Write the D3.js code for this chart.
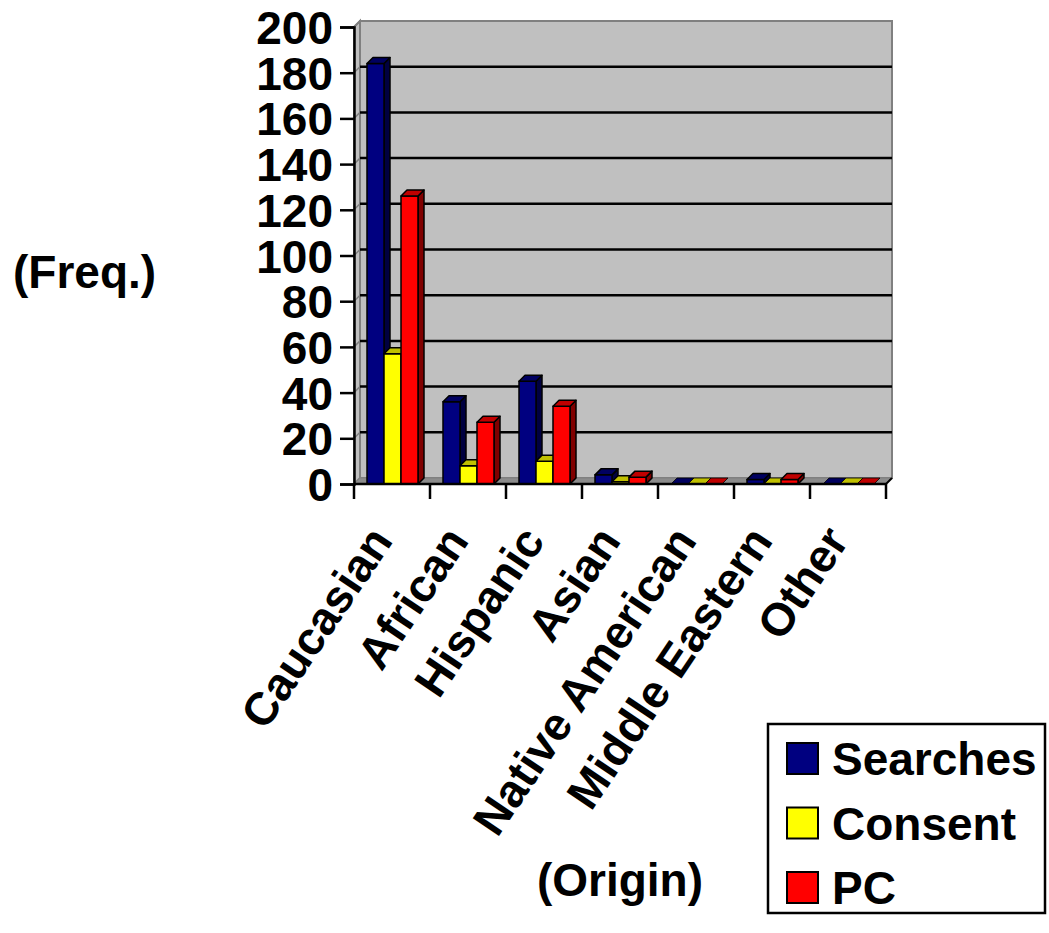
<!DOCTYPE html>
<html>
<head>
<meta charset="utf-8">
<script src="https://cdn.jsdelivr.net/npm/d3@7"></script>
<style>
  body { margin: 0; background: #fff; }
  text { font-family: "Liberation Sans", Arial, sans-serif; font-weight: bold; fill: #000; }
</style>
</head>
<body>
<div id="chart"></div>
<script>
const categories = ["Caucasian", "African", "Hispanic", "Asian", "Native American", "Middle Eastern", "Other"];
const seriesNames = ["Searches", "Consent", "PC"];
const searches = [184, 36, 45, 4, 0, 2, 0];
const consent = [57, 8, 10, 1, 0, 0, 0];
const pc = [126, 27, 34, 3, 0, 2, 0];
const yTicks = [0, 20, 40, 60, 80, 100, 120, 140, 160, 180, 200];

const seriesValues = [searches, consent, pc];
// front, top, side colours
const faces = [
  ["#000080", "#000060", "#000040"],
  ["#ffff00", "#c0c000", "#808000"],
  ["#ff0000", "#c00000", "#800000"]
];

const W = 1049, H = 933;
const depth = 6;

const svg = d3.select("#chart").append("svg")
  .attr("width", W).attr("height", H);

const x = d3.scaleBand().domain(categories).range([354, 886]);
const xs = d3.scaleBand().domain(seriesNames).range([13, 64]);
const y = d3.scaleLinear().domain([0, 200]).range([484, 27]);

const x0 = x.range()[0], x1 = x.range()[1];
const yTop = y(200), yBot = y(0);

// walls
svg.append("polygon")
  .attr("points", [[x0, yTop], [x0 + depth, yTop - depth], [x0 + depth, yBot - depth], [x0, yBot]].join(" "))
  .attr("fill", "#c0c0c0").attr("stroke", "#808080").attr("stroke-width", 2);
svg.append("rect")
  .attr("x", x0 + depth).attr("y", yTop - depth)
  .attr("width", x1 - x0).attr("height", yBot - yTop)
  .attr("fill", "#c0c0c0").attr("stroke", "#808080").attr("stroke-width", 2);
svg.append("polygon")
  .attr("points", [[x0, yBot], [x0 + depth, yBot - depth], [x1 + depth, yBot - depth], [x1, yBot]].join(" "))
  .attr("fill", "#8c8c8c").attr("stroke", "#808080").attr("stroke-width", 1);

// gridlines
const grid = svg.append("g");
yTicks.filter(v => v > 0).forEach(v => {
  grid.append("line")
    .attr("x1", x0).attr("y1", y(v)).attr("x2", x0 + depth).attr("y2", y(v) - depth)
    .attr("stroke", "#808080").attr("stroke-width", 1.5);
  grid.append("line")
    .attr("x1", x0 + depth).attr("y1", y(v) - depth).attr("x2", x1 + depth).attr("y2", y(v) - depth)
    .attr("stroke", "#000").attr("stroke-width", v === 200 ? 0 : 2.5);
});

// bars
const bars = svg.append("g");
categories.forEach((c, i) => {
  seriesNames.forEach((s, j) => {
    const v = seriesValues[j][i];
    const bx = x(c) + xs(s), bw = xs.bandwidth();
    const by = y(v);
    const g = bars.append("g").attr("stroke", "#000").attr("stroke-width", 1.5).attr("stroke-linejoin", "round");
    if (v > 0) {
      g.append("polygon")
        .attr("points", [[bx + bw, by], [bx + bw + depth, by - depth], [bx + bw + depth, yBot - depth], [bx + bw, yBot]].join(" "))
        .attr("fill", faces[j][2]);
      g.append("rect")
        .attr("x", bx).attr("y", by).attr("width", bw).attr("height", yBot - by)
        .attr("fill", faces[j][0]);
    }
    g.append("polygon")
      .attr("points", [[bx, by], [bx + depth, by - depth], [bx + bw + depth, by - depth], [bx + bw, by]].join(" "))
      .attr("fill", faces[j][1])
      .attr("stroke-width", v > 0 ? 1.5 : 0.8);
  });
});

// y axis
const yAxis = svg.append("g")
  .attr("transform", `translate(${x0},0)`)
  .call(d3.axisLeft(y).tickValues(yTicks).tickSize(14).tickPadding(7));
yAxis.select(".domain").attr("stroke", "#000").attr("stroke-width", 2.5);
yAxis.selectAll(".tick line").attr("stroke", "#000").attr("stroke-width", 2.5);
yAxis.selectAll(".tick text")
  .style("font-family", "'Liberation Sans', Arial, sans-serif")
  .style("font-weight", "bold")
  .attr("font-size", 46).attr("dy", "0.36em").attr("fill", "#000");

// x axis
const xa = svg.append("g");
xa.append("line")
  .attr("x1", x0).attr("y1", yBot).attr("x2", x1).attr("y2", yBot)
  .attr("stroke", "#000").attr("stroke-width", 2.5);
xa.append("line")
  .attr("x1", x1).attr("y1", yBot).attr("x2", x1 + depth).attr("y2", yBot - depth)
  .attr("stroke", "#000").attr("stroke-width", 2);
categories.concat([null]).forEach((c, i) => {
  const tx = c === null ? x1 : x(c);
  xa.append("line")
    .attr("x1", tx).attr("y1", yBot).attr("x2", tx).attr("y2", yBot + 15)
    .attr("stroke", "#000").attr("stroke-width", 2.5);
});
xa.selectAll("text.cat")
  .data(categories)
  .join("text")
  .attr("class", "cat")
  .attr("font-size", 46)
  .attr("text-anchor", "end")
  .attr("transform", d => `translate(${x(d) + x.bandwidth() / 2 + 2},541) rotate(-56)`)
  .text(d => d);

// axis titles
svg.append("text").attr("x", 13).attr("y", 288).attr("font-size", 46).text("(Freq.)");
svg.append("text").attr("x", 620).attr("y", 896).attr("font-size", 46)
  .attr("text-anchor", "middle").text("(Origin)");

// legend
const lg = svg.append("g");
lg.append("rect")
  .attr("x", 768).attr("y", 724).attr("width", 277).attr("height", 189)
  .attr("fill", "#fff").attr("stroke", "#000").attr("stroke-width", 2.5);
seriesNames.forEach((s, j) => {
  const ry = 743 + j * 64.5;
  lg.append("rect")
    .attr("x", 787).attr("y", ry).attr("width", 31).attr("height", 31)
    .attr("fill", faces[j][0]).attr("stroke", "#000").attr("stroke-width", 2);
  lg.append("text")
    .attr("x", 832).attr("y", ry + 32).attr("font-size", 46).text(s);
});
</script>
</body>
</html>
